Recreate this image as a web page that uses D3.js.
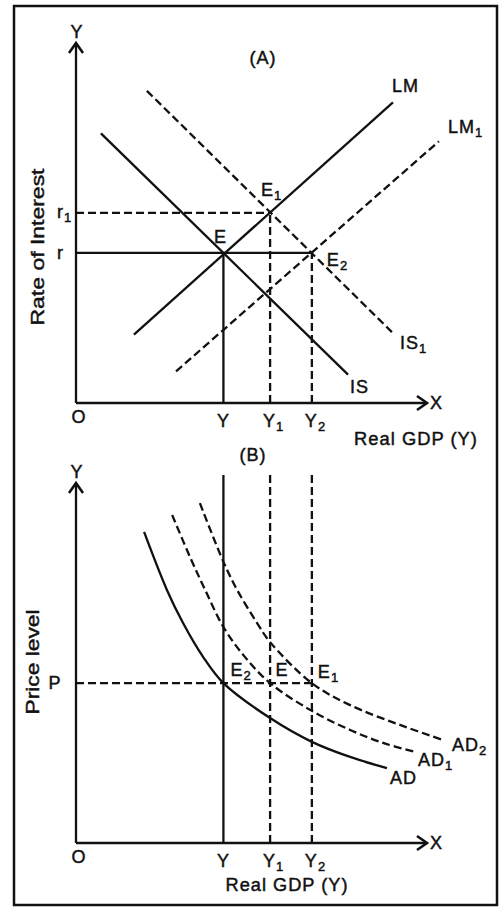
<!DOCTYPE html>
<html>
<head>
<meta charset="utf-8">
<script src="https://cdn.jsdelivr.net/npm/d3@7"></script>
<style>
  html, body { margin: 0; padding: 0; background: #fff; }
  svg { display: block; }
  text { font-family: "Liberation Sans", Arial, Helvetica, sans-serif; fill: #111; stroke: #111; stroke-width: 0.45px; }
</style>
</head>
<body>
<svg id="chart" width="499" height="909"></svg>
<script>
// ---------------- DATA (abstract units 0..100 on each axis) ----------------
// Panel A: IS-LM
const incomeLevels = [42, 55.3, 67.2];              // Y, Y1, Y2
const incomeLabels = [["Y", ""], ["Y", "1"], ["Y", "2"]];
const rateLevels = [41.7, 52.8];                     // r, r1
const rateLabels = [["r", ""], ["r", "1"]];
const LM  = [[16.5, 19.0], [90.3, 83.5]];
const LM1 = [[28.5, 8.8], [103.4, 72.7]];
const IS  = [[7.1, 74.9], [77.5, 7.9]];
const IS1 = [[20.2, 86.7], [90.0, 19.7]];

// Panel B: AD curves
const priceLevel = 44.4;                             // P
const AD = [[19.4, 86.4], [25.9, 70.3], [30.5, 61.1], [36.2, 51.7], [42, 44.4],
            [55.3, 34.7], [67.2, 28.1], [78.1, 23.9], [88.6, 20.8]];
const AD1 = [[27.4, 91.1], [32.5, 79.4], [36.8, 70.3], [42, 60], [48.1, 51.7],
             [55.3, 44.4], [67.2, 36.7], [78.1, 31.4], [87.5, 27.8], [96.6, 25.3]];
const AD2 = [[35.3, 94.4], [42, 78.1], [45.9, 70.3], [51.6, 61.1], [55.3, 55.8],
             [67.2, 44.4], [78.1, 38.3], [92.3, 32.8], [104.6, 28.6]];
const verticalTop = 102.2;

// ---------------- DRAWING ----------------
const svg = d3.select("#chart");
const INK = "#111";
const DASH = "8,4";
const LW = 2.3;

svg.append("rect").attr("x", 14).attr("y", 6).attr("width", 483).attr("height", 899)
  .attr("fill", "none").attr("stroke", INK).attr("stroke-width", 2.5);

const x = d3.scaleLinear().domain([0, 100]).range([76, 427]);
const yA = d3.scaleLinear().domain([0, 100]).range([403, 43]);
const yB = d3.scaleLinear().domain([0, 100]).range([843, 483]);

function label(g, px, py, main, sub, anchor, size) {
  const t = g.append("text").attr("x", px).attr("y", py)
    .attr("text-anchor", anchor || "start")
    .attr("dominant-baseline", "central")
    .style("font-size", (size || 18) + "px")
    .style("letter-spacing", "1px");
  t.append("tspan").text(main);
  if (sub) t.append("tspan").attr("dy", 5).style("font-size", "13px").text(sub);
  return t;
}

function axes(g, y) {
  g.append("line").attr("x1", x(0)).attr("x2", x(0)).attr("y1", y(0)).attr("y2", y(100))
    .attr("stroke", INK).attr("stroke-width", LW);
  g.append("path").attr("d", `M${x(0) - 7},${y(100) + 10} L${x(0)},${y(100)} L${x(0) + 7},${y(100) + 10}`)
    .attr("fill", "none").attr("stroke", INK).attr("stroke-width", 2.6);
  g.append("line").attr("x1", x(0)).attr("x2", x(100)).attr("y1", y(0)).attr("y2", y(0))
    .attr("stroke", INK).attr("stroke-width", LW);
  g.append("path").attr("d", `M${x(100) - 10},${y(0) - 7} L${x(100)},${y(0)} L${x(100) - 10},${y(0) + 7}`)
    .attr("fill", "none").attr("stroke", INK).attr("stroke-width", 2.6);
  label(g, x(0) + 1, y(100) - 11, "Y", "", "middle");
  label(g, x(100) + 3, y(0), "X", "", "start");
  label(g, x(0) + 3, y(0) + 14, "O", "", "middle");
  incomeLevels.forEach((v, i) => {
    const [m, s] = incomeLabels[i];
    label(g, x(v) + (s ? -7 : 0), y(0) + 18, m, s, s ? "start" : "middle");
  });
}

function seg(g, pts, y, dashed) {
  g.append("line")
    .attr("x1", x(pts[0][0])).attr("y1", y(pts[0][1]))
    .attr("x2", x(pts[1][0])).attr("y2", y(pts[1][1]))
    .attr("stroke", INK).attr("stroke-width", LW)
    .attr("stroke-dasharray", dashed ? DASH : null);
}

// ---- Panel A ----
const gA = svg.append("g");
axes(gA, yA);
label(gA, 263, 58, "(A)", "", "middle");

seg(gA, [[0, rateLevels[0]], [incomeLevels[2], rateLevels[0]]], yA, false);
seg(gA, [[0, rateLevels[1]], [incomeLevels[1], rateLevels[1]]], yA, true);
seg(gA, [[incomeLevels[0], 0], [incomeLevels[0], rateLevels[0]]], yA, false);
seg(gA, [[incomeLevels[1], 0], [incomeLevels[1], rateLevels[1]]], yA, true);
seg(gA, [[incomeLevels[2], 0], [incomeLevels[2], rateLevels[0]]], yA, true);

seg(gA, LM, yA, false);
seg(gA, LM1, yA, true);
seg(gA, IS, yA, false);
seg(gA, IS1, yA, true);

label(gA, x(LM[1][0]) - 1, yA(LM[1][1]) - 16, "LM", "");
label(gA, x(LM1[1][0]) + 9, yA(LM1[1][1]) - 14, "LM", "1");
label(gA, x(IS1[1][0]) + 8, yA(IS1[1][1]) + 11, "IS", "1");
label(gA, x(IS[1][0]) + 2, yA(IS[1][1]) + 12, "IS", "");
label(gA, x(incomeLevels[1]) - 9, yA(rateLevels[1]) - 23, "E", "1");
label(gA, x(incomeLevels[0]) - 3, yA(rateLevels[0]) - 16, "E", "", "middle");
label(gA, x(incomeLevels[2]) + 15, yA(rateLevels[0]) + 7, "E", "2");
rateLevels.forEach((v, i) => {
  const [m, s] = rateLabels[i];
  label(gA, 57, yA(v) - (s ? 1 : 0), m, s);
});
label(gA, 354, 439, "Real GDP (Y)", "").attr("textLength", 124).attr("lengthAdjust", "spacingAndGlyphs");
gA.append("text").attr("transform", "translate(37,247) rotate(-90)")
  .attr("text-anchor", "middle").attr("dominant-baseline", "central")
  .attr("textLength", 157).attr("lengthAdjust", "spacingAndGlyphs")
  .style("font-size", "19px").text("Rate of Interest");

// ---- Panel B ----
const gB = svg.append("g");
axes(gB, yB);
label(gB, 253, 455, "(B)", "", "middle");

seg(gB, [[0, priceLevel], [incomeLevels[2], priceLevel]], yB, true);
seg(gB, [[incomeLevels[0], 0], [incomeLevels[0], verticalTop]], yB, false);
seg(gB, [[incomeLevels[1], 0], [incomeLevels[1], verticalTop]], yB, true);
seg(gB, [[incomeLevels[2], 0], [incomeLevels[2], verticalTop]], yB, true);

const curve = d3.line().x(d => x(d[0])).y(d => yB(d[1])).curve(d3.curveCatmullRom.alpha(0.5));
gB.append("path").attr("d", curve(AD)).attr("fill", "none").attr("stroke", INK).attr("stroke-width", LW);
gB.append("path").attr("d", curve(AD1)).attr("fill", "none").attr("stroke", INK).attr("stroke-width", LW)
  .attr("stroke-dasharray", DASH);
gB.append("path").attr("d", curve(AD2)).attr("fill", "none").attr("stroke", INK).attr("stroke-width", LW)
  .attr("stroke-dasharray", DASH);

label(gB, 390, 778, "AD", "");
label(gB, 418, 760, "AD", "1");
label(gB, 452, 745, "AD", "2");
label(gB, x(incomeLevels[0]) + 7, yB(priceLevel) - 13, "E", "2");
label(gB, x(incomeLevels[1]) + 12, yB(priceLevel) - 13, "E", "", "middle");
label(gB, x(incomeLevels[2]) + 6, yB(priceLevel) - 11, "E", "1");
label(gB, 55, yB(priceLevel), "P", "", "middle");
label(gB, 287, 885, "Real GDP (Y)", "", "middle").attr("textLength", 123).attr("lengthAdjust", "spacingAndGlyphs");
gB.append("text").attr("transform", "translate(32,662) rotate(-90)")
  .attr("text-anchor", "middle").attr("dominant-baseline", "central")
  .attr("textLength", 105).attr("lengthAdjust", "spacingAndGlyphs")
  .style("font-size", "19px").text("Price level");
</script>
</body>
</html>
